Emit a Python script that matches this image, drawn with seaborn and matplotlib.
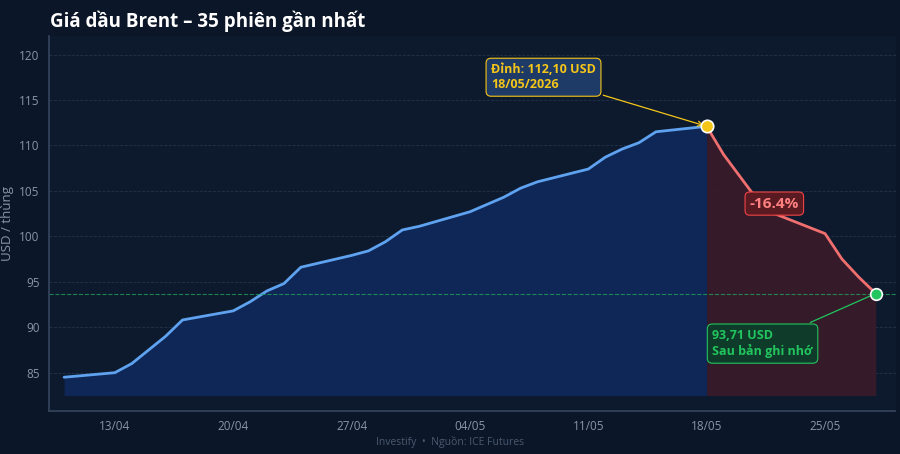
import pandas as pd
import numpy as np
import matplotlib
matplotlib.use("Agg")
import matplotlib.pyplot as plt
import matplotlib.dates as mdates
import seaborn as sns

dates = pd.bdate_range("2026-04-10", "2026-05-28")
prices = [84.5, 85.0, 86.0, 87.5, 89.0, 90.8, 91.8, 92.8, 94.0, 94.8, 96.6,
          97.9, 98.4, 99.4, 100.7, 101.1, 102.7, 103.5, 104.3, 105.3, 106.0,
          107.4, 108.7, 109.6, 110.3, 111.5, 112.1, 109.0, 106.5, 104.0,
          102.5, 100.3, 97.5, 95.5, 93.71]
df = pd.DataFrame({"date": dates, "price": prices})
peak_i = int(np.argmax(prices))
pct = (prices[-1] / prices[peak_i] - 1) * 100

bg = "#0b1628"
sns.set_theme(style="dark")
plt.rcParams["font.family"] = ["Open Sans", "DejaVu Sans"]

fig, ax = plt.subplots(figsize=(9, 4.54), dpi=100)
fig.patch.set_facecolor(bg)
ax.set_facecolor("#0d1a2d")

base = 82.5
pre = df.iloc[:peak_i + 1]
post = df.iloc[peak_i:]
ax.fill_between(pre["date"], base, pre["price"], color="#10285a", alpha=0.95, lw=0)
ax.fill_between(post["date"], base, post["price"], color="#3a1a2a", alpha=0.9, lw=0)
sns.lineplot(data=pre, x="date", y="price", ax=ax, color="#5ea2f0", lw=2)
sns.lineplot(data=post, x="date", y="price", ax=ax, color="#ef6f6f", lw=2)
ax.axhline(prices[-1], color="#22a05a", ls="--", lw=0.8, alpha=0.8)

ax.scatter([dates[peak_i]], [prices[peak_i]], s=80, color="#f5c518", edgecolor="white", lw=1.2, zorder=5)
ax.scatter([dates[-1]], [prices[-1]], s=70, color="#22c55e", edgecolor="white", lw=1.2, zorder=5)

ax.annotate(f"Đỉnh: {prices[peak_i]:.2f} USD\n{dates[peak_i]:%d/%m/%Y}".replace(".", ","),
            xy=(dates[peak_i], prices[peak_i]), xytext=(pd.Timestamp("2026-05-05 06:00"), 117.5),
            color="#f5c518", fontsize=9, fontweight="bold", ha="left", va="center",
            bbox=dict(boxstyle="round,pad=0.4", fc="#1e3a66", ec="#f5c518", lw=0.8),
            arrowprops=dict(arrowstyle="->", color="#f5c518", lw=0.9))
ax.annotate(f"{prices[-1]:.2f} USD\nSau bản ghi nhớ".replace(".", ","),
            xy=(dates[-1], prices[-1]), xytext=(pd.Timestamp("2026-05-18 08:00"), 88.2),
            color="#22c55e", fontsize=9, fontweight="bold", ha="left", va="center",
            bbox=dict(boxstyle="round,pad=0.4", fc="#0f3b2a", ec="#22c55e", lw=0.8),
            arrowprops=dict(arrowstyle="-", color="#22c55e", lw=0.9))
ax.text(pd.Timestamp("2026-05-22"), 103.6, f"{pct:.1f}%", color="#ff8080", fontsize=11,
        fontweight="bold", ha="center", va="center",
        bbox=dict(boxstyle="round,pad=0.3", fc="#5a1a22", ec="#ef4444", lw=0.8))

ax.set_xlim(pd.Timestamp("2026-04-09 02:00"), pd.Timestamp("2026-05-29 04:00"))
ax.set_ylim(80.8, 122)
ax.set_yticks(range(85, 121, 5))
ax.xaxis.set_major_locator(mdates.WeekdayLocator(byweekday=mdates.MO))
ax.xaxis.set_major_formatter(mdates.DateFormatter("%d/%m"))
ax.tick_params(colors="#8896aa", labelsize=8.5, length=3)
ax.grid(axis="y", color="#22324a", ls="--", lw=0.6)
ax.grid(axis="x", visible=False)
for s in ["top", "right"]:
    ax.spines[s].set_visible(False)
for s in ["left", "bottom"]:
    ax.spines[s].set_color("#34445c")
ax.set_xlabel("")
ax.set_ylabel("USD / thùng", color="#8896aa", fontsize=9.5, labelpad=4)
fig.text(0.055, 0.94, "Giá dầu Brent – 35 phiên gần nhất", color="white",
         fontsize=13.5, fontweight="bold")
fig.text(0.5, 0.02, "Investify  •  Nguồn: ICE Futures", color="#4a5a70", fontsize=7.5, ha="center")
fig.subplots_adjust(left=0.054, right=0.995, top=0.92, bottom=0.095)
fig.savefig("out.png", dpi=100, facecolor=bg)
